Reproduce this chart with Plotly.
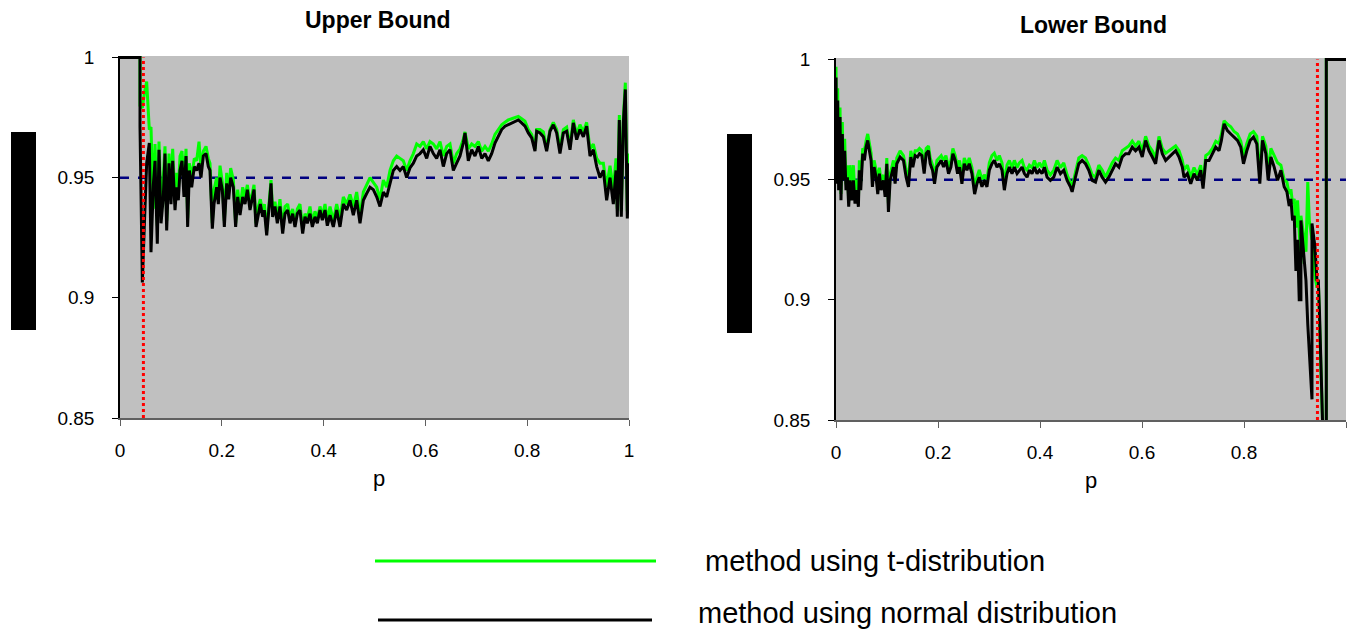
import plotly.graph_objects as go

# ---------------- data ----------------
NOMINAL = 0.95
UB_CUTOFF = 0.046   # red dotted line, upper bound plot
LB_CUTOFF = 0.944   # red dotted line, lower bound plot

UB_P = [0.0000, 0.0393, 0.0393, 0.0439, 0.0478, 0.0524, 0.0576, 0.0609, 0.0655, 0.0688,
        0.0733, 0.0766, 0.0806, 0.0851, 0.0884, 0.0917, 0.0963, 0.1002, 0.1035, 0.1081,
        0.1113, 0.1146, 0.1179, 0.1218, 0.1257, 0.1297, 0.1329, 0.1362, 0.1408, 0.1460,
        0.1506, 0.1552, 0.1591, 0.1637, 0.1690, 0.1735, 0.1768, 0.1814, 0.1847, 0.1899,
        0.1932, 0.1965, 0.2010, 0.2050, 0.2096, 0.2135, 0.2174, 0.2227, 0.2272, 0.2312,
        0.2358, 0.2410, 0.2456, 0.2502, 0.2554, 0.2593, 0.2633, 0.2672, 0.2718, 0.2757,
        0.2803, 0.2836, 0.2882, 0.2927, 0.2967, 0.2999, 0.3045, 0.3091, 0.3143, 0.3196,
        0.3242, 0.3294, 0.3340, 0.3392, 0.3438, 0.3484, 0.3536, 0.3589, 0.3635, 0.3680,
        0.3733, 0.3779, 0.3831, 0.3877, 0.3929, 0.3975, 0.4028, 0.4073, 0.4126, 0.4191,
        0.4257, 0.4322, 0.4388, 0.4453, 0.4519, 0.4584, 0.4650, 0.4715, 0.4781, 0.4846,
        0.4912, 0.4977, 0.5043, 0.5108, 0.5174, 0.5239, 0.5305, 0.5370, 0.5436, 0.5501,
        0.5566, 0.5632, 0.5697, 0.5763, 0.5829, 0.5894, 0.5959, 0.6025, 0.6090, 0.6156,
        0.6221, 0.6287, 0.6352, 0.6418, 0.6483, 0.6549, 0.6614, 0.6680, 0.6745, 0.6778,
        0.6843, 0.6909, 0.6974, 0.7040, 0.7106, 0.7171, 0.7236, 0.7302, 0.7367, 0.7433,
        0.7498, 0.7564, 0.7629, 0.7695, 0.7760, 0.7826, 0.7891, 0.7957, 0.8022, 0.8088,
        0.8153, 0.8186, 0.8251, 0.8317, 0.8382, 0.8448, 0.8513, 0.8579, 0.8644, 0.8710,
        0.8775, 0.8841, 0.8906, 0.8972, 0.9037, 0.9103, 0.9168, 0.9234, 0.9299, 0.9365,
        0.9430, 0.9496, 0.9561, 0.9627, 0.9692, 0.9745, 0.9771, 0.9810, 0.9849, 0.9889,
        0.9928, 0.9967, 1.0000]

UB_NORMAL = [1.0000, 1.0000, 0.9714, 0.9064, 0.9300, 0.9560, 0.9644, 0.9190, 0.9470, 0.9570,
             0.9225, 0.9616, 0.9310, 0.9420, 0.9600, 0.9280, 0.9560, 0.9390, 0.9570, 0.9365,
             0.9460, 0.9406, 0.9530, 0.9570, 0.9420, 0.9590, 0.9295, 0.9530, 0.9460, 0.9546,
             0.9530, 0.9560, 0.9500, 0.9590, 0.9600, 0.9546, 0.9530, 0.9288, 0.9390, 0.9460,
             0.9390, 0.9500, 0.9450, 0.9295, 0.9476, 0.9410, 0.9500, 0.9460, 0.9295, 0.9420,
             0.9344, 0.9420, 0.9390, 0.9450, 0.9365, 0.9406, 0.9450, 0.9295, 0.9350, 0.9390,
             0.9337, 0.9365, 0.9260, 0.9365, 0.9476, 0.9337, 0.9380, 0.9310, 0.9380, 0.9267,
             0.9350, 0.9365, 0.9310, 0.9350, 0.9295, 0.9350, 0.9365, 0.9267, 0.9337, 0.9310,
             0.9350, 0.9295, 0.9337, 0.9310, 0.9365, 0.9323, 0.9365, 0.9300, 0.9344, 0.9295,
             0.9365, 0.9295, 0.9390, 0.9365, 0.9406, 0.9344, 0.9406, 0.9310, 0.9406, 0.9434,
             0.9460, 0.9450, 0.9420, 0.9380, 0.9440, 0.9420, 0.9476, 0.9530, 0.9546, 0.9530,
             0.9546, 0.9500, 0.9540, 0.9560, 0.9590, 0.9600, 0.9616, 0.9580, 0.9630, 0.9600,
             0.9580, 0.9616, 0.9546, 0.9600, 0.9616, 0.9530, 0.9560, 0.9590, 0.9644, 0.9686,
             0.9570, 0.9616, 0.9590, 0.9630, 0.9580, 0.9600, 0.9570, 0.9600, 0.9644, 0.9670,
             0.9700, 0.9714, 0.9720, 0.9728, 0.9735, 0.9740, 0.9728, 0.9714, 0.9686, 0.9665,
             0.9610, 0.9693, 0.9686, 0.9670, 0.9610, 0.9693, 0.9720, 0.9686, 0.9600, 0.9686,
             0.9693, 0.9616, 0.9728, 0.9658, 0.9700, 0.9670, 0.9714, 0.9590, 0.9616, 0.9546,
             0.9500, 0.9530, 0.9406, 0.9500, 0.9390, 0.9530, 0.9337, 0.9740, 0.9337, 0.9728,
             0.9867, 0.9330, 0.9560]

UB_T = [1.0000, 1.0000, 0.9800, 0.9790, 0.9850, 0.9900, 0.9700, 0.9710, 0.9370, 0.9640,
        0.9300, 0.9650, 0.9380, 0.9500, 0.9630, 0.9320, 0.9600, 0.9440, 0.9620, 0.9400,
        0.9520, 0.9450, 0.9590, 0.9610, 0.9470, 0.9620, 0.9330, 0.9560, 0.9500, 0.9580,
        0.9570, 0.9650, 0.9540, 0.9610, 0.9630, 0.9580, 0.9560, 0.9310, 0.9450, 0.9500,
        0.9420, 0.9550, 0.9480, 0.9320, 0.9520, 0.9440, 0.9540, 0.9490, 0.9310, 0.9450,
        0.9370, 0.9460, 0.9420, 0.9470, 0.9390, 0.9430, 0.9470, 0.9310, 0.9380, 0.9410,
        0.9360, 0.9390, 0.9280, 0.9390, 0.9490, 0.9360, 0.9400, 0.9330, 0.9410, 0.9290,
        0.9380, 0.9390, 0.9330, 0.9370, 0.9310, 0.9370, 0.9390, 0.9290, 0.9350, 0.9330,
        0.9380, 0.9310, 0.9360, 0.9330, 0.9380, 0.9340, 0.9390, 0.9320, 0.9380, 0.9320,
        0.9390, 0.9330, 0.9420, 0.9390, 0.9430, 0.9380, 0.9440, 0.9340, 0.9440, 0.9470,
        0.9500, 0.9480, 0.9460, 0.9410, 0.9490, 0.9460, 0.9530, 0.9570, 0.9590, 0.9580,
        0.9570, 0.9530, 0.9570, 0.9600, 0.9640, 0.9630, 0.9650, 0.9620, 0.9650, 0.9640,
        0.9620, 0.9650, 0.9590, 0.9630, 0.9640, 0.9560, 0.9600, 0.9620, 0.9660, 0.9690,
        0.9620, 0.9640, 0.9630, 0.9650, 0.9610, 0.9630, 0.9610, 0.9640, 0.9680, 0.9700,
        0.9720, 0.9730, 0.9740, 0.9745, 0.9750, 0.9755, 0.9745, 0.9735, 0.9700, 0.9680,
        0.9620, 0.9700, 0.9700, 0.9690, 0.9620, 0.9700, 0.9730, 0.9700, 0.9620, 0.9700,
        0.9710, 0.9630, 0.9740, 0.9680, 0.9720, 0.9690, 0.9730, 0.9620, 0.9640, 0.9580,
        0.9560, 0.9560, 0.9460, 0.9550, 0.9450, 0.9580, 0.9370, 0.9760, 0.9360, 0.9750,
        0.9895, 0.9360, 0.9600]

LB_P = [0.0000, 0.0013, 0.0033, 0.0052, 0.0079, 0.0098, 0.0124, 0.0144, 0.0170, 0.0196,
        0.0223, 0.0249, 0.0275, 0.0308, 0.0341, 0.0373, 0.0406, 0.0439, 0.0458, 0.0485,
        0.0524, 0.0557, 0.0589, 0.0622, 0.0655, 0.0688, 0.0714, 0.0747, 0.0786, 0.0819,
        0.0851, 0.0884, 0.0930, 0.0963, 0.0996, 0.1028, 0.1061, 0.1094, 0.1126, 0.1159,
        0.1192, 0.1257, 0.1323, 0.1375, 0.1421, 0.1467, 0.1506, 0.1552, 0.1598, 0.1637,
        0.1683, 0.1729, 0.1768, 0.1814, 0.1847, 0.1893, 0.1932, 0.1978, 0.2024, 0.2063,
        0.2109, 0.2155, 0.2207, 0.2253, 0.2292, 0.2338, 0.2384, 0.2423, 0.2469, 0.2515,
        0.2567, 0.2613, 0.2665, 0.2718, 0.2764, 0.2809, 0.2862, 0.2908, 0.2960, 0.3006,
        0.3058, 0.3104, 0.3157, 0.3202, 0.3255, 0.3301, 0.3353, 0.3399, 0.3451, 0.3497,
        0.3550, 0.3595, 0.3648, 0.3694, 0.3746, 0.3792, 0.3844, 0.3890, 0.3942, 0.3988,
        0.4041, 0.4086, 0.4139, 0.4204, 0.4270, 0.4335, 0.4401, 0.4466, 0.4532, 0.4597,
        0.4630, 0.4695, 0.4761, 0.4826, 0.4892, 0.4957, 0.5023, 0.5088, 0.5154, 0.5219,
        0.5285, 0.5350, 0.5416, 0.5481, 0.5547, 0.5612, 0.5678, 0.5743, 0.5809, 0.5874,
        0.5940, 0.6005, 0.6071, 0.6136, 0.6202, 0.6267, 0.6333, 0.6398, 0.6464, 0.6529,
        0.6595, 0.6660, 0.6726, 0.6791, 0.6824, 0.6889, 0.6955, 0.7020, 0.7086, 0.7151,
        0.7197, 0.7250, 0.7315, 0.7381, 0.7446, 0.7511, 0.7557, 0.7610, 0.7675, 0.7741,
        0.7806, 0.7872, 0.7937, 0.7990, 0.8055, 0.8121, 0.8186, 0.8251, 0.8310, 0.8363,
        0.8428, 0.8474, 0.8527, 0.8592, 0.8658, 0.8723, 0.8788, 0.8841, 0.8886, 0.8920,
        0.8952, 0.8985, 0.9018, 0.9050, 0.9083, 0.9116, 0.9116, 0.9150, 0.9215, 0.9250,
        0.9281, 0.9333, 0.9333, 0.9391, 0.9430, 0.9457, 0.9480, 0.9509, 0.9530, 0.9542,
        0.9614, 0.9614, 1.0000]

LB_NORMAL = [0.9925, 0.9483, 0.9829, 0.9456, 0.9760, 0.9414, 0.9690, 0.9497, 0.9620, 0.9456,
             0.9510, 0.9387, 0.9497, 0.9414, 0.9497, 0.9400, 0.9456, 0.9387, 0.9539, 0.9456,
             0.9608, 0.9580, 0.9635, 0.9663, 0.9620, 0.9580, 0.9470, 0.9552, 0.9510, 0.9440,
             0.9525, 0.9456, 0.9497, 0.9428, 0.9566, 0.9366, 0.9497, 0.9525, 0.9552, 0.9483,
             0.9566, 0.9594, 0.9580, 0.9510, 0.9470, 0.9594, 0.9552, 0.9600, 0.9594, 0.9608,
             0.9600, 0.9525, 0.9608, 0.9620, 0.9566, 0.9539, 0.9483, 0.9552, 0.9566, 0.9580,
             0.9552, 0.9580, 0.9525, 0.9552, 0.9608, 0.9580, 0.9525, 0.9552, 0.9483, 0.9566,
             0.9539, 0.9566, 0.9525, 0.9440, 0.9483, 0.9510, 0.9470, 0.9497, 0.9470, 0.9539,
             0.9566, 0.9580, 0.9552, 0.9566, 0.9539, 0.9456, 0.9525, 0.9552, 0.9525, 0.9552,
             0.9525, 0.9539, 0.9552, 0.9525, 0.9510, 0.9539, 0.9525, 0.9552, 0.9525, 0.9539,
             0.9525, 0.9552, 0.9510, 0.9497, 0.9510, 0.9552, 0.9525, 0.9539, 0.9497, 0.9470,
             0.9449, 0.9510, 0.9566, 0.9580, 0.9566, 0.9539, 0.9497, 0.9490, 0.9539, 0.9510,
             0.9490, 0.9510, 0.9539, 0.9566, 0.9552, 0.9594, 0.9608, 0.9608, 0.9635, 0.9620,
             0.9635, 0.9594, 0.9663, 0.9620, 0.9594, 0.9566, 0.9663, 0.9608, 0.9580, 0.9594,
             0.9608, 0.9620, 0.9594, 0.9552, 0.9510, 0.9525, 0.9483, 0.9525, 0.9497, 0.9539,
             0.9463, 0.9580, 0.9580, 0.9608, 0.9635, 0.9620, 0.9663, 0.9732, 0.9704, 0.9690,
             0.9677, 0.9663, 0.9635, 0.9566, 0.9620, 0.9663, 0.9677, 0.9649, 0.9483, 0.9663,
             0.9608, 0.9497, 0.9594, 0.9552, 0.9497, 0.9539, 0.9470, 0.9450, 0.9390, 0.9420,
             0.9330, 0.9350, 0.9120, 0.9250, 0.9000, 0.9000, 0.9330, 0.9250, 0.9080, 0.8900,
             0.8780, 0.8586, 0.9318, 0.9221, 0.9083, 0.9080, 0.8950, 0.8700, 0.8580, 0.8480,
             0.8400, 1.0000, 1.0000]

LB_T = [0.9970, 0.9520, 0.9880, 0.9490, 0.9800, 0.9440, 0.9740, 0.9520, 0.9670, 0.9480,
        0.9560, 0.9410, 0.9560, 0.9440, 0.9560, 0.9420, 0.9500, 0.9410, 0.9580, 0.9490,
        0.9630, 0.9620, 0.9660, 0.9690, 0.9650, 0.9610, 0.9500, 0.9580, 0.9540, 0.9470,
        0.9550, 0.9490, 0.9520, 0.9460, 0.9590, 0.9400, 0.9520, 0.9550, 0.9580, 0.9510,
        0.9590, 0.9620, 0.9600, 0.9540, 0.9500, 0.9620, 0.9580, 0.9620, 0.9620, 0.9630,
        0.9620, 0.9550, 0.9630, 0.9640, 0.9590, 0.9560, 0.9510, 0.9580, 0.9590, 0.9600,
        0.9580, 0.9600, 0.9550, 0.9580, 0.9630, 0.9600, 0.9550, 0.9580, 0.9510, 0.9590,
        0.9560, 0.9590, 0.9550, 0.9470, 0.9510, 0.9540, 0.9500, 0.9520, 0.9500, 0.9570,
        0.9600, 0.9610, 0.9580, 0.9600, 0.9570, 0.9480, 0.9560, 0.9580, 0.9550, 0.9580,
        0.9550, 0.9570, 0.9580, 0.9550, 0.9540, 0.9560, 0.9550, 0.9580, 0.9550, 0.9570,
        0.9550, 0.9580, 0.9540, 0.9520, 0.9540, 0.9580, 0.9550, 0.9570, 0.9520, 0.9490,
        0.9470, 0.9530, 0.9590, 0.9600, 0.9590, 0.9560, 0.9520, 0.9510, 0.9560, 0.9540,
        0.9510, 0.9540, 0.9570, 0.9590, 0.9580, 0.9620, 0.9630, 0.9640, 0.9660, 0.9640,
        0.9660, 0.9620, 0.9680, 0.9640, 0.9620, 0.9590, 0.9680, 0.9630, 0.9610, 0.9620,
        0.9630, 0.9640, 0.9620, 0.9580, 0.9540, 0.9560, 0.9510, 0.9550, 0.9520, 0.9560,
        0.9480, 0.9600, 0.9610, 0.9630, 0.9660, 0.9650, 0.9690, 0.9745, 0.9730, 0.9720,
        0.9700, 0.9690, 0.9660, 0.9600, 0.9650, 0.9690, 0.9700, 0.9680, 0.9520, 0.9680,
        0.9640, 0.9530, 0.9630, 0.9600, 0.9570, 0.9560, 0.9500, 0.9490, 0.9440, 0.9460,
        0.9400, 0.9420, 0.9300, 0.9414, 0.9280, 0.9150, 0.9350, 0.9300, 0.9200, 0.9490,
        0.9330, 0.9250, 0.9290, 0.9100, 0.9050, 0.9080, 0.8900, 0.8650, 0.8560, 0.8480,
        0.8400, 1.0000, 1.0000]

Y_TICKS = [0.85, 0.9, 0.95, 1.0]
Y_TICK_TEXT = ["0.85", "0.9", "0.95", "1"]
X_TICKS = [0, 0.2, 0.4, 0.6, 0.8, 1]
X_TICK_TEXT = ["0", "0.2", "0.4", "0.6", "0.8", "1"]
LEGEND_LABELS = ["method using t-distribution", "method using normal distribution"]

# ---------------- styling ----------------
W, H = 1350, 632
FONT = "Liberation Sans, Arial, sans-serif"
GREEN = "#00FF00"
BLACK = "#000000"
NAVY = "#000080"
RED = "#FF0000"
GRAY_BG = "#C0C0C0"


def px(x):
    return x / W


def py(y):
    return 1 - y / H


fig = go.Figure()


def add_panel(p, t_vals, n_vals, cutoff, xa, ya):
    fig.add_trace(go.Scatter(x=[0, 1], y=[NOMINAL, NOMINAL], mode="lines",
                             line=dict(color=NAVY, width=2.5, dash="dash"),
                             xaxis=xa, yaxis=ya, showlegend=False, hoverinfo="skip"))
    fig.add_trace(go.Scatter(x=p, y=t_vals, mode="lines",
                             line=dict(color=GREEN, width=3),
                             xaxis=xa, yaxis=ya, name=LEGEND_LABELS[0], showlegend=False))
    fig.add_trace(go.Scatter(x=p, y=n_vals, mode="lines",
                             line=dict(color=BLACK, width=3),
                             xaxis=xa, yaxis=ya, name=LEGEND_LABELS[1], showlegend=False))
    fig.add_trace(go.Scatter(x=[cutoff, cutoff], y=[0.85, 1.0], mode="lines",
                             line=dict(color=RED, width=3, dash="dot"),
                             xaxis=xa, yaxis=ya, showlegend=False, hoverinfo="skip"))


add_panel(UB_P, UB_T, UB_NORMAL, UB_CUTOFF, "x", "y")
add_panel(LB_P, LB_T, LB_NORMAL, LB_CUTOFF, "x2", "y2")

xa_common = dict(range=[0, 1], tickvals=X_TICKS, ticktext=X_TICK_TEXT,
                 showgrid=False, zeroline=False, showline=True, automargin=False,
                 linecolor="#606060", linewidth=1.5,
                 ticks="outside", ticklen=6, tickcolor="#606060",
                 tickfont=dict(family=FONT, size=19, color="#000000"),
                 ticklabelstandoff=8, fixedrange=True)
ya_common = dict(range=[0.85, 1.0006], tickvals=Y_TICKS, ticktext=Y_TICK_TEXT,
                 showgrid=False, zeroline=False, showline=True, automargin=False,
                 linecolor="#000000", linewidth=1.5,
                 ticks="outside", ticklen=6, tickcolor="#000000",
                 tickfont=dict(family=FONT, size=19, color="#000000"),
                 ticklabelstandoff=14, fixedrange=True)

fig.update_layout(
    width=W, height=H,
    margin=dict(l=0, r=0, t=0, b=0, autoexpand=False),
    paper_bgcolor="white",
    plot_bgcolor=GRAY_BG,
    showlegend=False,
    xaxis=dict(domain=[px(120), px(629)], anchor="y", **xa_common),
    yaxis=dict(domain=[py(418), py(56)], anchor="x", **ya_common),
    xaxis2=dict(domain=[px(836), px(1346)], anchor="y2", **xa_common),
    yaxis2=dict(domain=[py(420), py(58)], anchor="x2", **ya_common),
)

annos = [
    dict(x=px(378), y=py(20), text="<b>Upper Bound</b>", font=dict(size=23)),
    dict(x=px(1093), y=py(25), text="<b>Lower Bound</b>", font=dict(size=23)),
    dict(x=px(379), y=py(478), text="p", font=dict(size=22)),
    dict(x=px(1091), y=py(480), text="p", font=dict(size=22)),
    dict(x=px(703), y=py(561), text=LEGEND_LABELS[0], font=dict(size=29), xanchor="left"),
    dict(x=px(696), y=py(613), text=LEGEND_LABELS[1], font=dict(size=29), xanchor="left"),
]
for a in annos:
    a.setdefault("xanchor", "center")
    a["font"]["family"] = FONT
    a["font"]["color"] = "#000000"
    fig.add_annotation(xref="paper", yref="paper", yanchor="middle",
                       showarrow=False, **a)

shapes = [
    # legend line samples
    dict(type="line", x0=px(375), x1=px(656), y0=py(561), y1=py(561),
         line=dict(color=GREEN, width=3)),
    dict(type="line", x0=px(378), x1=px(652), y0=py(620), y1=py(620),
         line=dict(color=BLACK, width=3)),
    # redacted axis titles
    dict(type="rect", x0=px(11), x1=px(36), y0=py(330), y1=py(132),
         fillcolor="#000000", line=dict(width=0)),
    dict(type="rect", x0=px(727), x1=px(752), y0=py(333), y1=py(134),
         fillcolor="#000000", line=dict(width=0)),
]
for s in shapes:
    fig.add_shape(xref="paper", yref="paper", **s)

fig.write_html("out.html",
               config={"displayModeBar": False},
               post_script="document.body.style.margin='0';document.body.style.overflow='hidden';")
